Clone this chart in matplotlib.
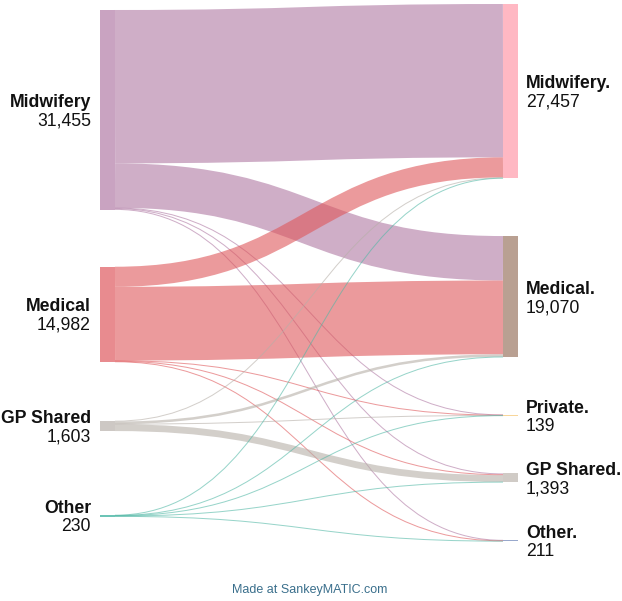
import matplotlib
matplotlib.use("Agg")
import matplotlib.pyplot as plt
from matplotlib.path import Path
from matplotlib.patches import PathPatch, Rectangle

# node names
left_names = ["Midwifery", "Medical", "GP Shared", "Other"]
right_names = ["Midwifery.", "Medical.", "Private.", "GP Shared.", "Other."]

# flows[source][target]
flows = [
    [24150, 7000, 40, 150, 115],    # Midwifery
    [3157, 11620, 39, 120, 46],     # Medical
    [100, 400, 30, 1073, 0],        # GP Shared
    [50, 50, 30, 50, 50],           # Other
]

left_node_colors = ["#c9a3c1", "#e88b8f", "#cdc8c4", "#6cc4b6"]
right_node_colors = ["#ffb8c3", "#b9a092", "#f8d69a", "#d0cbc6", "#98a8cc"]
flow_colors = ["#af78a3", "#df575a", "#b6afa8", "#52b8a6"]
flow_alpha = 0.6

# layout (pixels)
scale = 0.00635
node_w = 15
left_x, right_x = 100, 503
left_top, right_top = 10, 4
left_gaps = [57, 59, 84]
right_gap = 57.7
fs = 12.7

left_tot = [sum(r) for r in flows]
right_tot = [sum(flows[i][j] for i in range(len(flows))) for j in range(len(right_names))]


def stack(totals, top, gaps):
    ys = []
    y = top
    for k, t in enumerate(totals):
        ys.append(y)
        y += t * scale
        if k < len(gaps):
            y += gaps[k]
    return ys


left_y = stack(left_tot, left_top, left_gaps)
right_y = stack(right_tot, right_top, [right_gap] * 4)

fig = plt.figure(figsize=(6.22, 6.01), dpi=100)
ax = fig.add_axes([0, 0, 1, 1])
ax.set_xlim(0, 622)
ax.set_ylim(601, 0)
ax.axis("off")

# link end points: stacked by target order at the source, by source order at the target
src_off = list(left_y)
starts = {}
for i in range(len(flows)):
    for j in range(len(right_names)):
        w = flows[i][j] * scale
        starts[(i, j)] = src_off[i] + w / 2
        src_off[i] += w
tgt_off = list(right_y)
ends = {}
for j in range(len(right_names)):
    for i in range(len(flows)):
        w = flows[i][j] * scale
        ends[(i, j)] = tgt_off[j] + w / 2
        tgt_off[j] += w

x0 = left_x + node_w
x1 = right_x
xm = (x0 + x1) / 2
for i in range(len(flows)):
    for j in range(len(right_names)):
        if flows[i][j] == 0:
            continue
        w = flows[i][j] * scale
        ya, yb = starts[(i, j)], ends[(i, j)]
        path = Path([(x0, ya), (xm, ya), (xm, yb), (x1, yb)],
                    [Path.MOVETO, Path.CURVE4, Path.CURVE4, Path.CURVE4])
        ax.add_patch(PathPatch(path, fill=False, edgecolor=flow_colors[i],
                               alpha=flow_alpha, lw=max(w, 1.0) * 0.72,
                               capstyle="butt", zorder=1))

# nodes and labels
for k, name in enumerate(left_names):
    h = max(left_tot[k] * scale, 1.5)
    ax.add_patch(Rectangle((left_x, left_y[k]), node_w, h,
                           color=left_node_colors[k], lw=0, zorder=2))
    cy = left_y[k] + h / 2
    ax.text(left_x - 9, cy - 3, name, ha="right", va="baseline", fontsize=fs,
            fontweight="bold", family="Liberation Sans", color="#111111")
    ax.text(left_x - 9, cy + 2.5, f"{left_tot[k]:,}", ha="right", va="top",
            fontsize=fs, family="Liberation Sans", color="#111111")

for k, name in enumerate(right_names):
    h = max(right_tot[k] * scale, 1.5)
    ax.add_patch(Rectangle((right_x, right_y[k]), node_w, h,
                           color=right_node_colors[k], lw=0, zorder=2))
    cy = right_y[k] + h / 2
    ax.text(right_x + node_w + 8, cy - 3, name, ha="left", va="baseline",
            fontsize=fs, fontweight="bold", family="Liberation Sans",
            color="#111111")
    ax.text(right_x + node_w + 8, cy + 2.5, f"{right_tot[k]:,}", ha="left",
            va="top", fontsize=fs, family="Liberation Sans", color="#111111")

ax.text(310, 590, "Made at SankeyMATIC.com", ha="center", va="center",
        fontsize=9, family="Liberation Sans", color="#3a6f8c")

fig.savefig("out.png", dpi=100)
